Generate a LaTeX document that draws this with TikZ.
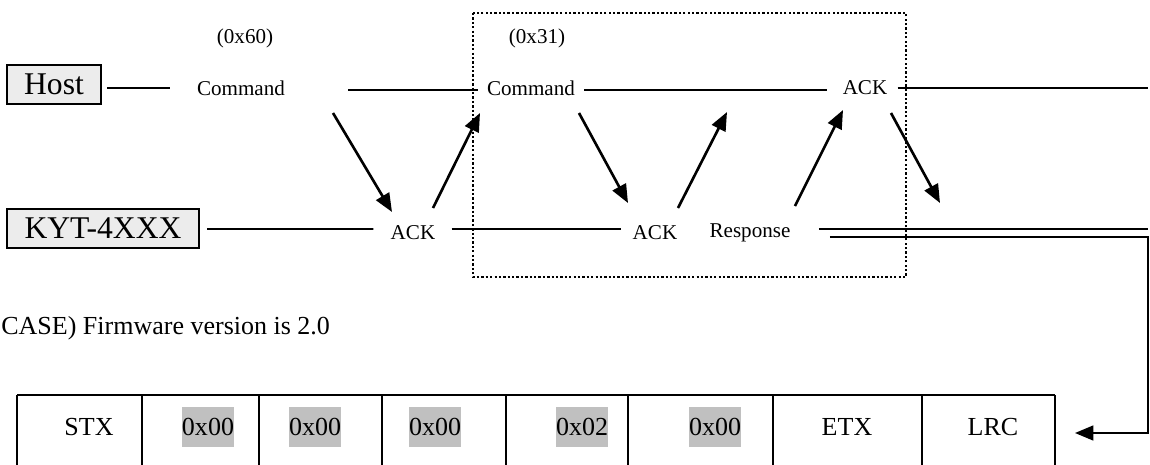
\documentclass[tikz,border=0pt]{standalone}
\usepackage{fontspec}
\setmainfont{Liberation Serif}
\usetikzlibrary{arrows.meta,calc}
\definecolor{hilite}{HTML}{C0C0C0}

\begin{document}
\begin{tikzpicture}[x=0.02cm,y=-0.02cm,
	lbl/.style={inner sep=0pt,font=\fontsize{12}{14}\selectfont},
	dev/.style={draw,line width=1.3pt,fill=gray!15,inner sep=0pt,minimum height=0.78cm,font=\fontsize{18}{20}\selectfont},
	wire/.style={line width=1.1pt},
	arr/.style={-{Triangle[length=10.5pt,width=8.5pt]}},
	sig/.style={arr,line width=1.5pt},
	fld/.style={inner xsep=0pt,inner ysep=0pt,minimum height=0.8cm,font=\fontsize{14.8}{16}\selectfont}]
	\useasboundingbox (0,0) rectangle (1150,464);
	\node[dev,minimum width=1.88cm] (host) at (54,84.5) {Host};
	\node[dev,minimum width=3.84cm] (kyt) at (103,228.5) {KYT-4XXX};
	\node[lbl] (hexA) at (245,38) {(0x60)};
	\node[lbl] (cmdA) at (241,88) {Command};
	\node[lbl] (hexB) at (537,38) {(0x31)};
	\node[lbl] (cmdB) at (531,88) {Command};
	\node[lbl] (ackC) at (865,88) {ACK};
	\node[lbl] (ackA) at (413,233) {ACK};
	\node[lbl] (ackB) at (655,233) {ACK};
	\node[lbl] (resp) at (750,233) {Response};
	\coordinate (endH) at (1148,88);
	\coordinate (endK) at (1148,229);
	\coordinate (bend) at (1148,237);
	\coordinate (lrcin) at (1075,433);
	\coordinate (gapB) at (727,112);
	\coordinate (gapC) at (940,203);
	\draw[line width=1.5pt,dash pattern=on 1.3pt off 1.2pt] (473,13) rectangle (906,277);
	\draw[wire] ($(host.east |- cmdA)+(5,0)$) -- ($(cmdA.west)+(-27,0)$);
	\draw[wire] ($(cmdA.east)+(63,2)$) -- ($(cmdB.west)+(-9,2)$);
	\draw[wire] ($(cmdB.east)+(9,2)$) -- ($(ackC.west)+(-15,2)$);
	\draw[wire] ($(ackC.east)+(10,0)$) -- (endH);
	\draw[wire] ($(kyt.east)+(7,0.5)$) -- ($(ackA.west)+(-17,-4)$);
	\draw[wire] ($(ackA.east)+(16,-4)$) -- ($(ackB.west)+(-11,-4)$);
	\draw[wire] ($(resp.east)+(28,-4)$) -- (endK);
	\draw[wire,arr] ($(resp.east)+(39,4)$) -- (bend) |- (lrcin);
	\draw[sig] ($(cmdA)+(92,25)$) -- ($(ackA)+(-21,-21)$);
	\draw[sig] ($(ackA)+(20,-25)$) -- ($(cmdB)+(-51,25)$);
	\draw[sig] ($(cmdB)+(48,25)$) -- ($(ackB)+(-27,-30)$);
	\draw[sig] ($(ackB)+(23,-25)$) -- (gapB);
	\draw[sig] ($(resp)+(45,-27)$) -- ($(ackC)+(-22,22)$);
	\draw[sig] ($(ackC)+(26,25)$) -- (gapC);
	\node[fld,anchor=base west] (fw) at (1,334) {CASE) Firmware version is 2.0};
	\draw[wire] (17,395) -- (1055,395);
	\foreach \x in {17,142,259,382,506,628,773,922,1055} {
		\draw[wire] (\x,395) -- (\x,480);
	}
	\foreach \t/\txt/\c [count=\i] in {89/STX/white,208/0x00/hilite,315/0x00/hilite,435/0x00/hilite,582/0x02/hilite,715/0x00/hilite,847/ETX/white,993/LRC/white} {
		\node[fld,fill=\c] (f\i) at (\t,427) {\txt};
	}
\end{tikzpicture}
\end{document}
